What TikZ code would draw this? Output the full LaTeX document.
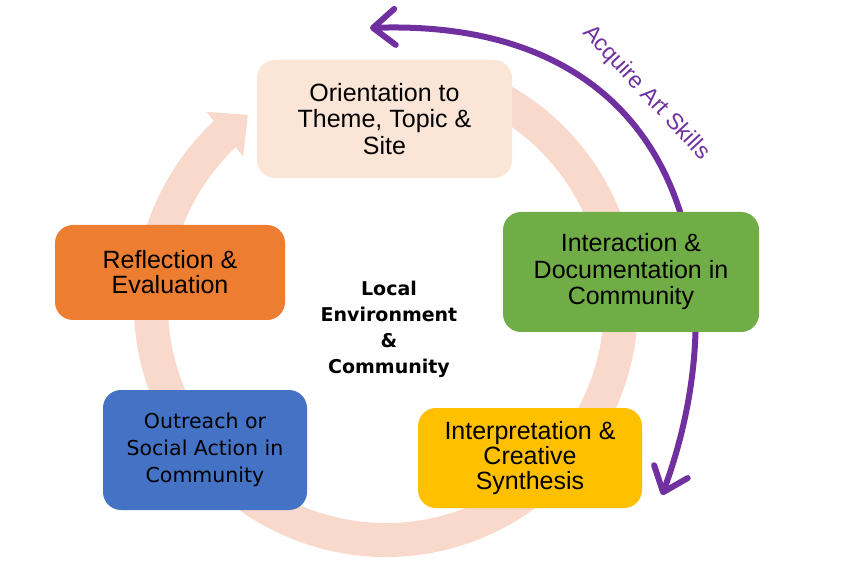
\documentclass[tikz,border=0pt]{standalone}
\usepackage{fontspec}
\setmainfont{Liberation Sans}
\newfontfamily\dejavu{DejaVu Sans}
\usetikzlibrary{arrows.meta,bending}
\definecolor{peach}{HTML}{FBE5D6}
\definecolor{ringpink}{HTML}{F8D9CB}
\definecolor{leafgreen}{HTML}{70AD47}
\definecolor{gold}{HTML}{FFC000}
\definecolor{steelblue}{HTML}{4472C4}
\definecolor{tangerine}{HTML}{ED7D31}
\definecolor{skillpurple}{HTML}{7030A0}
\begin{document}
\begin{tikzpicture}[x=1pt,y=1pt,
        stage/.style={rounded corners=18pt,inner sep=0pt,align=center,text=black,
            font=\fontsize{25}{26.5}\selectfont},
        skillbarb/.tip={Straight Barb[length=22pt,width=36pt,round]}]
        \useasboundingbox (0,0) rectangle (847,566);
        %% Cycle ring
        \draw[line width=34pt,ringpink,-{Triangle[length=30pt,width=56pt]}]
            (386,261) ++(75:235) arc[start angle=75,end angle=-234,radius=235];
        %% Skills arc
        \coordinate (skilltop) at (370,538);
        \coordinate (skillbot) at (662,71);
        \draw[skillpurple,line width=6pt,skillbarb-skillbarb]
            (skilltop) .. controls (690,552) and (743,283) .. (skillbot);
        \node[text=skillpurple,rotate=-47,font=\fontsize{23}{25}\selectfont] (skills) at (646,473) {Acquire Art Skills};
        %% Stages
        \node[stage,fill=peach,minimum width=255pt,minimum height=118pt] (orient) at (384.5,447)
            {Orientation to\\Theme, Topic \&\\Site};
        \node[stage,fill=leafgreen,minimum width=256pt,minimum height=120pt] (interact) at (631,294)
            {Interaction \&\\Documentation in\\Community};
        \node[stage,fill=gold,minimum width=224pt,minimum height=100pt,
            font=\fontsize{25}{25}\selectfont] (interpret) at (530,108)
            {Interpretation \&\\Creative\\Synthesis};
        \node[stage,fill=steelblue,minimum width=204pt,minimum height=120pt,
            font=\dejavu\fontsize{20.5}{27}\selectfont] (outreach) at (205,116)
            {Outreach or\\Social Action in\\Community};
        \node[stage,fill=tangerine,minimum width=230pt,minimum height=95pt,
            font=\fontsize{25}{25}\selectfont] (reflect) at (170,293.5)
            {Reflection \&\\Evaluation};
        %% Centre
        \node[align=center,font=\dejavu\bfseries\fontsize{19}{26}\selectfont] (local) at (389,237)
            {Local\\Environment\\\&\\Community};
    \end{tikzpicture}
\end{document}
